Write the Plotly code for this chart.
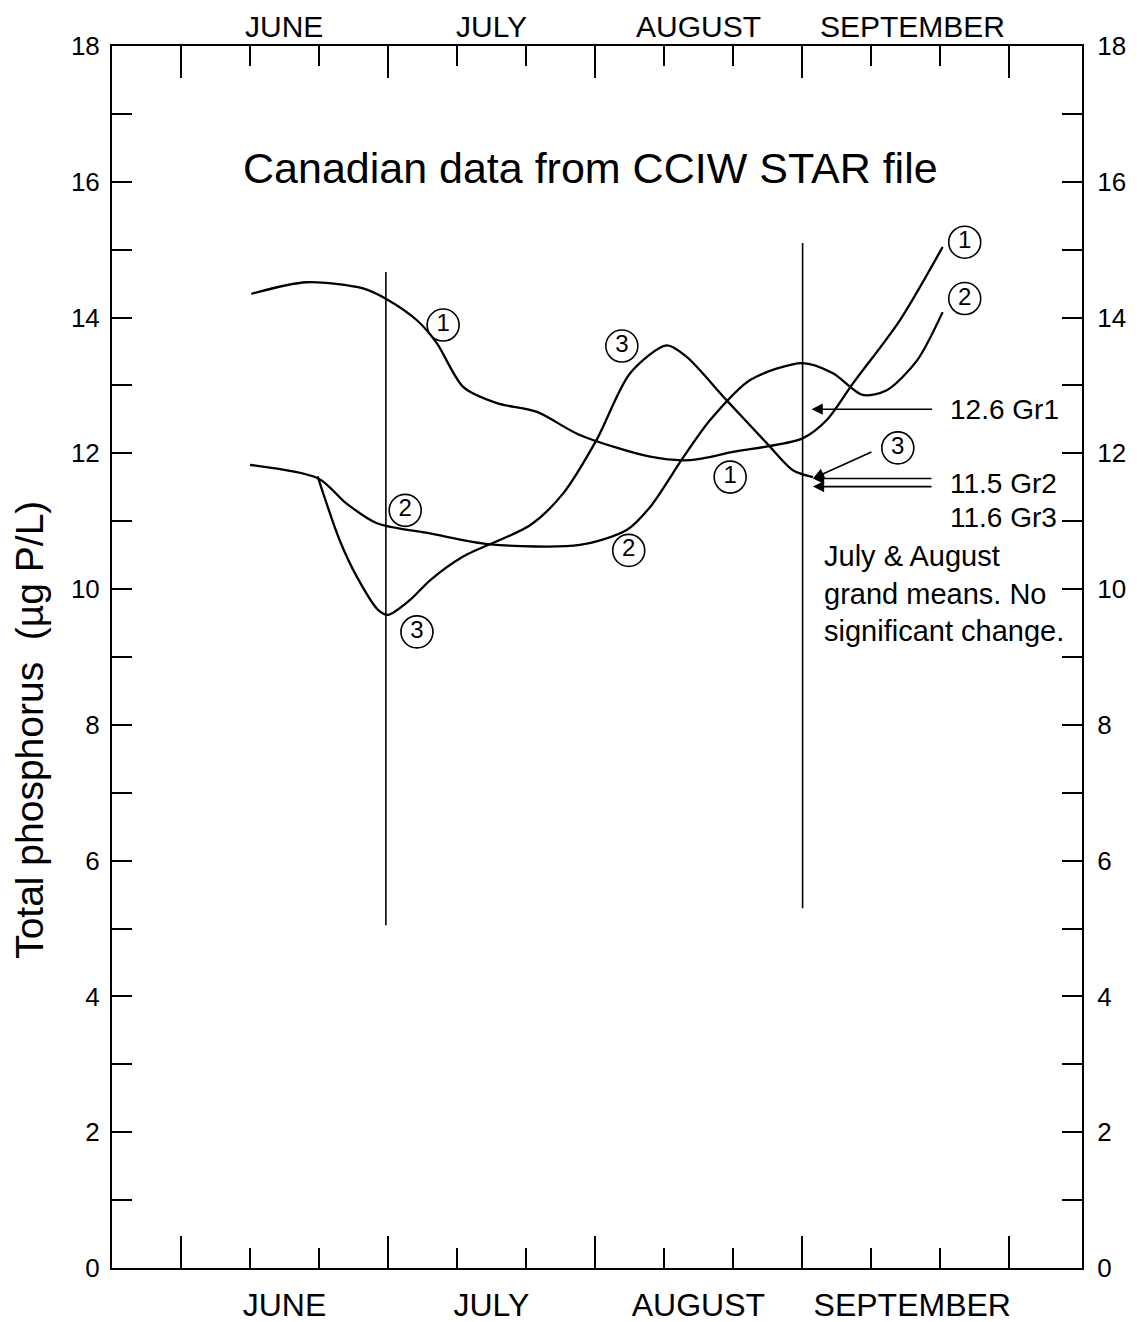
import plotly.graph_objects as go

# ---------------- data ----------------
months = ["JUNE", "JULY", "AUGUST", "SEPTEMBER"]
month_pos = [2.5, 5.5, 8.5, 11.6]
period_ticks = [2, 3, 5, 6, 8, 9, 11, 12]      # short ticks (thirds of months)
month_bounds = [1, 4, 7, 10, 13]                # long ticks (month starts)
y_labels = [0, 2, 4, 6, 8, 10, 12, 14, 16, 18]

g1_x = [2.02, 2.82, 3.64, 4.00, 4.42, 4.71, 5.09, 5.58, 6.16, 6.78, 7.80, 8.38, 9.00, 10.01, 10.36, 10.74, 11.42, 12.04]
g1_y = [14.35, 14.52, 14.43, 14.26, 13.96, 13.62, 12.98, 12.74, 12.61, 12.27, 11.95, 11.90, 12.02, 12.22, 12.49, 13.03, 13.96, 15.04]

g2_x = [2.00, 2.99, 3.40, 3.84, 4.61, 5.48, 6.78, 7.46, 7.80, 8.28, 8.67, 9.25, 10.01, 10.45, 10.88, 11.23, 11.67, 12.04]
g2_y = [11.83, 11.63, 11.26, 10.97, 10.82, 10.66, 10.65, 10.87, 11.21, 11.94, 12.49, 13.08, 13.33, 13.18, 12.86, 12.93, 13.37, 14.08]

g3_x = [2.98, 3.30, 3.55, 3.86, 4.00, 4.32, 4.61, 5.09, 6.06, 6.54, 7.02, 7.51, 8.04, 8.33, 8.91, 9.49, 9.87, 10.16]
g3_y = [11.66, 10.72, 10.18, 9.69, 9.62, 9.84, 10.13, 10.48, 10.94, 11.41, 12.19, 13.18, 13.59, 13.42, 12.78, 12.15, 11.75, 11.65]

vline_x = [3.97, 10.01]
vline_top = [14.67, 15.10]
vline_bottom = [5.05, 5.30]

tag_x = [4.80, 4.25, 4.42, 7.39, 7.49, 8.96, 11.39, 12.36, 12.36]
tag_y = [13.89, 11.16, 9.37, 13.58, 10.57, 11.65, 12.08, 15.11, 14.28]
tag_text = ["1", "2", "3", "3", "2", "1", "3", "1", "2"]

# grand-mean arrows: head (x, y) and tail (x, y)
arrow_head_x = [10.14, 10.16, 10.16, 10.16]
arrow_head_y = [12.65, 11.63, 11.51, 11.63]
arrow_tail_x = [11.91, 11.90, 11.90, 11.03]
arrow_tail_y = [12.65, 11.63, 11.51, 12.03]

mean_text = ["12.6 Gr1", "11.5 Gr2", "11.6 Gr3"]
mean_text_x = [12.12, 12.12, 12.12]
mean_text_y = [12.65, 11.56, 11.06]

title_text = "Canadian data from CCIW STAR file"
note_text = "July & August<br>grand means. No<br>significant change."
y_title = "Total phosphorus  (µg P/L)"

FONT = "Liberation Sans, Arial, Helvetica, sans-serif"

fig = go.Figure()

curve_axes = [("x", "y"), ("x2", "y2"), ("x", "y")]
for (gx, gy), (xa, ya) in zip([(g1_x, g1_y), (g2_x, g2_y), (g3_x, g3_y)], curve_axes):
    fig.add_trace(go.Scatter(x=gx, y=gy, mode="lines", xaxis=xa, yaxis=ya,
                             line=dict(color="black", width=2.3, shape="spline", smoothing=0.8),
                             showlegend=False, hoverinfo="skip"))

for vx, vt, vb in zip(vline_x, vline_top, vline_bottom):
    fig.add_trace(go.Scatter(x=[vx, vx], y=[vb, vt], mode="lines", xaxis="x3", yaxis="y",
                             line=dict(color="black", width=1.6),
                             showlegend=False, hoverinfo="skip"))

fig.add_trace(go.Scatter(x=tag_x, y=tag_y, mode="markers+text", text=tag_text,
                         xaxis="x4", yaxis="y",
                         textposition="middle center",
                         textfont=dict(family=FONT, size=24, color="black"),
                         marker=dict(symbol="circle-open", size=32, color="black",
                                     line=dict(width=1.6, color="black")),
                         showlegend=False, hoverinfo="skip"))

annotations = []
for hx, hy, tx, ty in zip(arrow_head_x, arrow_head_y, arrow_tail_x, arrow_tail_y):
    annotations.append(dict(x=hx, y=hy, ax=tx, ay=ty, xref="x", yref="y",
                            axref="x", ayref="y", text="", showarrow=True,
                            arrowhead=2, arrowsize=1.4, arrowwidth=1.6,
                            arrowcolor="black", standoff=0, startstandoff=0))
for t, x, y in zip(mean_text, mean_text_x, mean_text_y):
    annotations.append(dict(x=x, y=y, xref="x", yref="y", text=t, showarrow=False,
                            xanchor="left", yanchor="middle",
                            font=dict(family=FONT, size=28, color="black")))
annotations.append(dict(x=10.29, y=9.94, xref="x", yref="y", text=note_text,
                        showarrow=False, xanchor="left", yanchor="middle", align="left",
                        font=dict(family=FONT, size=29, color="black")))
annotations.append(dict(x=6.93, y=16.21, xref="x", yref="y", text=title_text,
                        showarrow=False, xanchor="center", yanchor="middle",
                        font=dict(family=FONT, size=43, color="black")))
annotations.append(dict(x=-0.085, y=0.44, xref="paper", yref="paper", text=y_title,
                        showarrow=False, textangle=-90, xanchor="center", yanchor="middle",
                        font=dict(family=FONT, size=39, color="black")))
# month names along the top edge (placed on the x scale)
for m, p in zip(months, month_pos):
    annotations.append(dict(x=p, y=1, xref="x", yref="paper", text=m, showarrow=False,
                            xanchor="center", yanchor="middle", yshift=20,
                            font=dict(family=FONT, size=30, color="black")))

xr = [0, 14.06]
common_x = dict(range=xr, showgrid=False, zeroline=False, fixedrange=True, automargin=False)
label_x = dict(common_x, tickmode="array", tickvals=month_pos, ticktext=months,
               ticks="", tickfont=dict(family=FONT, size=32, color="black"),
               minor=dict(tickmode="array", tickvals=period_ticks, ticks="inside",
                          ticklen=20, tickwidth=2, tickcolor="black"),
               showline=True, linewidth=2, linecolor="black")
long_x = dict(common_x, tickmode="array", tickvals=month_bounds, ticks="inside",
              ticklen=32, tickwidth=2, tickcolor="black", showticklabels=False,
              showline=False)

common_y = dict(range=[0, 18], showgrid=False, zeroline=False, fixedrange=True,
                automargin=False,
                tickmode="array", tickvals=y_labels, ticks="inside", ticklen=20,
                tickwidth=2, tickcolor="black",
                tickfont=dict(family=FONT, size=26, color="black"),
                minor=dict(dtick=1, tick0=0, ticks="inside", ticklen=20, tickwidth=2,
                           tickcolor="black"),
                showline=True, linewidth=2, linecolor="black")

# page body has an 8px margin: size the figure so the plot frame lands where it should
fig.update_layout(
    width=1137, height=1314,
    margin=dict(l=104, r=63, t=38, b=54, autoexpand=False),
    paper_bgcolor="white", plot_bgcolor="white",
    showlegend=False,
    xaxis=dict(label_x, side="bottom", anchor="y", ticklabelstandoff=8),
    xaxis2=dict(label_x, side="top", anchor="y", overlaying="x", showticklabels=False),
    xaxis3=dict(long_x, side="bottom", anchor="y", overlaying="x"),
    xaxis4=dict(long_x, side="top", anchor="y", overlaying="x"),
    yaxis=dict(common_y, side="left", anchor="x", ticklabelstandoff=5),
    yaxis2=dict(common_y, side="right", anchor="x", overlaying="y", ticklabelstandoff=8),
    annotations=annotations,
)

fig.write_html("out.html")
